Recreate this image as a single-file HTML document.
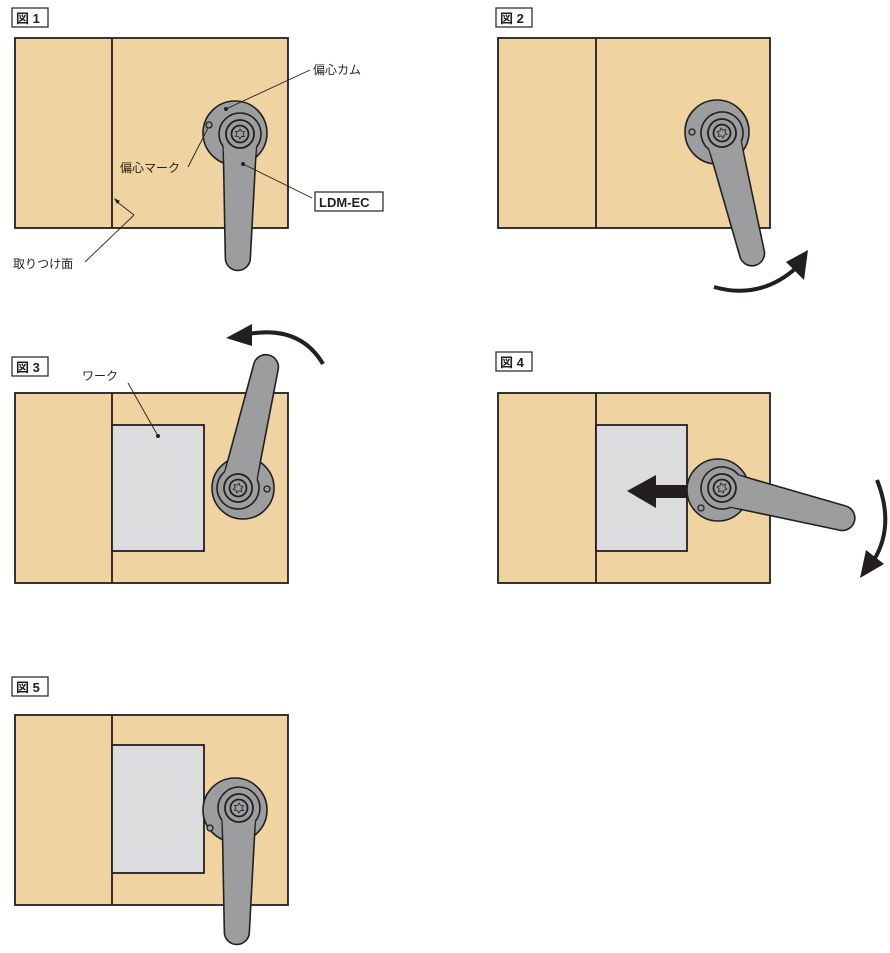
<!DOCTYPE html>
<html><head><meta charset="utf-8"><style>
body{margin:0;background:#fff;}
svg{display:block;}
text{font-family:"Liberation Sans","Noto Sans CJK JP",sans-serif;}
</style></head><body>
<svg width="890" height="953" viewBox="0 0 890 953" xmlns="http://www.w3.org/2000/svg">
<defs>
<g id="lever">
  <path d="M-17 0 L-12.5 124 A12.5 12.5 0 0 0 12.5 124 L17 0 Z" fill="#9c9d9f" stroke="#231f20" stroke-width="1.6"/>
  <circle cx="0" cy="0" r="21" fill="#9c9d9f" stroke="#231f20" stroke-width="1.6"/>
  <path d="M-16.5 8 L-15 30 L15 30 L16.5 8 Z" fill="#9c9d9f"/>
  <circle cx="0" cy="0" r="14" fill="#9c9d9f" stroke="#231f20" stroke-width="1.8"/>
  <circle cx="0" cy="0" r="8.5" fill="#9c9d9f" stroke="#231f20" stroke-width="1.8"/>
  <path d="M0 -5 L1.5 -2.5 L4.5 -2.5 L3 0 L4.5 2.5 L1.5 2.5 L0 5 L-1.5 2.5 L-4.5 2.5 L-3 0 L-4.5 -2.5 L-1.5 -2.5 Z" fill="none" stroke="#231f20" stroke-width="0.8"/>
</g>
</defs>

<!-- labels -->
<g font-size="13" font-weight="bold" fill="#231f20">
<rect x="12" y="8" width="36" height="19" fill="#fff" stroke="#231f20" stroke-width="1.2"/><text x="16" y="23">図 1</text>
<rect x="496" y="8" width="36" height="19" fill="#fff" stroke="#231f20" stroke-width="1.2"/><text x="500" y="23">図 2</text>
<rect x="12" y="357" width="36" height="19" fill="#fff" stroke="#231f20" stroke-width="1.2"/><text x="16" y="372">図 3</text>
<rect x="496" y="352" width="36" height="19" fill="#fff" stroke="#231f20" stroke-width="1.2"/><text x="500" y="367">図 4</text>
<rect x="12" y="677" width="36" height="19" fill="#fff" stroke="#231f20" stroke-width="1.2"/><text x="16" y="692">図 5</text>
</g>

<!-- Fig1 -->
<rect x="15" y="38" width="273" height="190" fill="#efd3a0" stroke="#231f20" stroke-width="1.8"/>
<line x1="112" y1="38" x2="112" y2="228" stroke="#231f20" stroke-width="1.8"/>
<circle cx="235" cy="133" r="32" fill="#9c9d9f" stroke="#231f20" stroke-width="1.6"/>
<circle cx="209" cy="125" r="3" fill="#9c9d9f" stroke="#231f20" stroke-width="1.3"/>
<use href="#lever" transform="translate(240,134) rotate(1)"/>
<g stroke="#231f20" stroke-width="0.9" fill="none">
<line x1="226" y1="109" x2="310" y2="70"/>
<line x1="208" y1="128" x2="188" y2="167"/>
<line x1="243" y1="164" x2="312" y2="198"/>
<line x1="85" y1="262" x2="134" y2="215"/>
<line x1="134" y1="215" x2="116" y2="201"/>
</g>
<circle cx="226" cy="109" r="2" fill="#231f20"/>
<circle cx="243" cy="164" r="2" fill="#231f20"/>
<path d="M114 198 L120 201 L117 204 Z" fill="#231f20"/>
<g font-size="12" fill="#231f20">
<text x="313" y="74">偏心カム</text>
<text x="120" y="172">偏心マーク</text>
<text x="13" y="268">取りつけ面</text>
</g>
<rect x="315" y="192" width="68" height="19" fill="#fff" stroke="#231f20" stroke-width="1.2"/>
<text x="319" y="207" font-size="13" font-weight="bold" fill="#231f20">LDM-EC</text>

<!-- Fig2 -->
<rect x="498" y="38" width="272" height="190" fill="#efd3a0" stroke="#231f20" stroke-width="1.8"/>
<line x1="596" y1="38" x2="596" y2="228" stroke="#231f20" stroke-width="1.8"/>
<circle cx="717" cy="132" r="32" fill="#9c9d9f" stroke="#231f20" stroke-width="1.6"/>
<circle cx="692" cy="132" r="3" fill="#9c9d9f" stroke="#231f20" stroke-width="1.3"/>
<use href="#lever" transform="translate(722,133) rotate(-14)"/>
<path d="M714 287 Q760 300 796 268" fill="none" stroke="#231f20" stroke-width="4"/>
<path d="M808 250 L804 280 L786 262 Z" fill="#231f20"/>

<!-- Fig3 -->
<rect x="15" y="393" width="273" height="190" fill="#efd3a0" stroke="#231f20" stroke-width="1.8"/>
<line x1="112" y1="393" x2="112" y2="583" stroke="#231f20" stroke-width="1.8"/>
<rect x="112" y="425" width="92" height="126" fill="#dcdcde" stroke="#231f20" stroke-width="1.8"/>
<circle cx="243" cy="488" r="31" fill="#9c9d9f" stroke="#231f20" stroke-width="1.6"/>
<circle cx="267" cy="489" r="3" fill="#9c9d9f" stroke="#231f20" stroke-width="1.3"/>
<use href="#lever" transform="translate(238,488) rotate(-167)"/>
<path d="M323 364 Q300 325 248 334" fill="none" stroke="#231f20" stroke-width="4"/>
<path d="M226 338 L252 324 L252 346 Z" fill="#231f20"/>
<line x1="158" y1="436" x2="128" y2="383" stroke="#231f20" stroke-width="0.9"/>
<circle cx="158" cy="436" r="2" fill="#231f20"/>
<text x="82" y="380" font-size="12" fill="#231f20">ワーク</text>

<!-- Fig4 -->
<rect x="498" y="393" width="272" height="190" fill="#efd3a0" stroke="#231f20" stroke-width="1.8"/>
<line x1="596" y1="393" x2="596" y2="583" stroke="#231f20" stroke-width="1.8"/>
<rect x="596" y="425" width="91" height="126" fill="#dcdcde" stroke="#231f20" stroke-width="1.8"/>
<rect x="648" y="485" width="40" height="13" fill="#231f20"/>
<path d="M627 491 L656 475 L656 508 Z" fill="#231f20"/>
<circle cx="718" cy="490" r="31" fill="#9c9d9f" stroke="#231f20" stroke-width="1.6"/>
<circle cx="701" cy="508" r="3" fill="#9c9d9f" stroke="#231f20" stroke-width="1.3"/>
<use href="#lever" transform="translate(722,488) rotate(-76)"/>
<path d="M877 480 Q895 525 874 560" fill="none" stroke="#231f20" stroke-width="4"/>
<path d="M860 578 L866 550 L884 564 Z" fill="#231f20"/>

<!-- Fig5 -->
<rect x="15" y="715" width="273" height="190" fill="#efd3a0" stroke="#231f20" stroke-width="1.8"/>
<line x1="112" y1="715" x2="112" y2="905" stroke="#231f20" stroke-width="1.8"/>
<rect x="112" y="745" width="92" height="128" fill="#dcdcde" stroke="#231f20" stroke-width="1.8"/>
<circle cx="235" cy="810" r="32" fill="#9c9d9f" stroke="#231f20" stroke-width="1.6"/>
<circle cx="210" cy="828" r="3" fill="#9c9d9f" stroke="#231f20" stroke-width="1.3"/>
<use href="#lever" transform="translate(239,808) rotate(1)"/>
</svg>
</body></html>
